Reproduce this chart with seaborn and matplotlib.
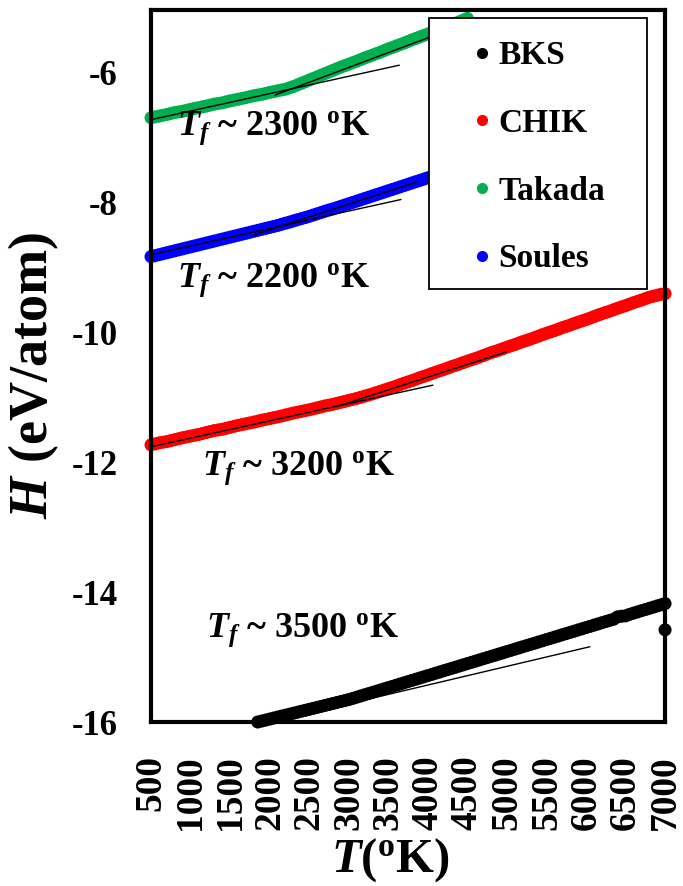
import numpy as np
import pandas as pd
import matplotlib
matplotlib.use("Agg")
import matplotlib.pyplot as plt
import seaborn as sns
from matplotlib.lines import Line2D
from matplotlib.patches import Rectangle
from matplotlib.ticker import MultipleLocator

# ---------------- data ----------------
series_names = ["BKS", "CHIK", "Takada", "Soules"]
series_colors = ["#000000", "#FF0000", "#00B050", "#0000FF"]

takada_T = list(range(500, 4501, 50))
takada_H = [-6.690, -6.677, -6.665, -6.652, -6.640, -6.625, -6.610, -6.600, -6.590, -6.575,
            -6.560, -6.548, -6.535, -6.522, -6.510, -6.495, -6.480, -6.470, -6.460, -6.445,
            -6.430, -6.418, -6.405, -6.392, -6.380, -6.365, -6.350, -6.340, -6.330, -6.315,
            -6.300, -6.288, -6.275, -6.262, -6.250, -6.230, -6.210, -6.185, -6.160, -6.135,
            -6.110, -6.085, -6.060, -6.035, -6.010, -5.985, -5.960, -5.935, -5.910, -5.888,
            -5.865, -5.842, -5.820, -5.795, -5.770, -5.748, -5.725, -5.702, -5.680, -5.655,
            -5.630, -5.608, -5.585, -5.562, -5.540, -5.515, -5.490, -5.468, -5.445, -5.422,
            -5.400, -5.375, -5.350, -5.328, -5.305, -5.282, -5.260, -5.235, -5.210, -5.185,
            -5.160]

soules_T = list(range(500, 4501, 50))
soules_H = [-8.830, -8.815, -8.800, -8.785, -8.770, -8.755, -8.740, -8.725, -8.710, -8.695,
            -8.680, -8.665, -8.650, -8.635, -8.620, -8.605, -8.590, -8.575, -8.560, -8.545,
            -8.530, -8.515, -8.500, -8.485, -8.470, -8.455, -8.440, -8.425, -8.410, -8.395,
            -8.380, -8.365, -8.350, -8.332, -8.315, -8.298, -8.280, -8.262, -8.245, -8.228,
            -8.210, -8.190, -8.170, -8.150, -8.130, -8.112, -8.095, -8.075, -8.055, -8.035,
            -8.015, -7.995, -7.975, -7.955, -7.935, -7.915, -7.895, -7.875, -7.855, -7.835,
            -7.815, -7.795, -7.775, -7.755, -7.735, -7.715, -7.695, -7.675, -7.655, -7.635,
            -7.615, -7.595, -7.575, -7.555, -7.535, -7.515, -7.495, -7.475, -7.455, -7.435,
            -7.415]

chik_T = list(range(500, 7001, 50))
chik_H = [-11.730, -11.715, -11.700, -11.690, -11.680, -11.665, -11.650, -11.635, -11.620, -11.608,
          -11.595, -11.582, -11.570, -11.555, -11.540, -11.525, -11.510, -11.500, -11.490, -11.475,
          -11.460, -11.445, -11.430, -11.418, -11.405, -11.392, -11.380, -11.365, -11.350, -11.338,
          -11.325, -11.312, -11.300, -11.285, -11.270, -11.255, -11.240, -11.228, -11.215, -11.202,
          -11.190, -11.175, -11.160, -11.145, -11.130, -11.118, -11.105, -11.090, -11.075, -11.060,
          -11.045, -11.030, -11.015, -10.998, -10.980, -10.962, -10.945, -10.925, -10.905, -10.885,
          -10.865, -10.845, -10.825, -10.802, -10.780, -10.760, -10.740, -10.718, -10.695, -10.675,
          -10.655, -10.632, -10.610, -10.590, -10.570, -10.548, -10.525, -10.505, -10.485, -10.462,
          -10.440, -10.420, -10.400, -10.378, -10.355, -10.332, -10.310, -10.290, -10.270, -10.248,
          -10.225, -10.205, -10.185, -10.162, -10.140, -10.120, -10.100, -10.078, -10.055, -10.032,
          -10.010, -9.990, -9.970, -9.948, -9.925, -9.905, -9.885, -9.862, -9.840, -9.820,
          -9.800, -9.778, -9.755, -9.732, -9.710, -9.690, -9.670, -9.648, -9.625, -9.605,
          -9.585, -9.562, -9.540, -9.520, -9.500, -9.478, -9.455, -9.440, -9.425, -9.410,
          -9.400]

bks_T = list(range(1850, 7001, 50)) + [7000]
bks_H = [-16.000, -15.985, -15.970, -15.955, -15.940, -15.925, -15.910, -15.895, -15.880, -15.865,
         -15.850, -15.835, -15.820, -15.805, -15.790, -15.775, -15.760, -15.745, -15.730, -15.715,
         -15.700, -15.685, -15.670, -15.655, -15.637, -15.618, -15.600, -15.581, -15.563, -15.544,
         -15.526, -15.507, -15.489, -15.470, -15.452, -15.433, -15.415, -15.396, -15.378, -15.359,
         -15.341, -15.322, -15.304, -15.285, -15.267, -15.248, -15.230, -15.211, -15.193, -15.174,
         -15.156, -15.137, -15.119, -15.100, -15.082, -15.063, -15.045, -15.026, -15.008, -14.989,
         -14.971, -14.952, -14.934, -14.915, -14.897, -14.878, -14.860, -14.841, -14.823, -14.804,
         -14.786, -14.767, -14.749, -14.730, -14.712, -14.693, -14.675, -14.656, -14.638, -14.619,
         -14.601, -14.582, -14.564, -14.545, -14.527, -14.508, -14.490, -14.471, -14.453, -14.434,
         -14.416, -14.380, -14.370, -14.365, -14.342, -14.323, -14.305, -14.286, -14.268, -14.249,
         -14.231, -14.212, -14.194, -14.175, -14.58]

# thin black linear-fit segments: (T_start, T_end, H_start, H_end)
fit_T0 = [500, 2070, 500, 1790, 500, 2845, 1850, 3300]
fit_T1 = [3640, 4130, 3660, 3860, 4065, 4990, 6050, 6900]
fit_H0 = [-6.72, -6.34, -8.80, -8.50, -11.76, -11.14, -16.05, -15.55]
fit_H1 = [-5.88, -5.40, -7.95, -7.68, -10.81, -10.30, -14.84, -14.22]

label_text = [r"$T_f$ ~ 2300 $^{\mathrm{o}}$K", r"$T_f$ ~ 2200 $^{\mathrm{o}}$K",
              r"$T_f$ ~ 3200 $^{\mathrm{o}}$K", r"$T_f$ ~ 3500 $^{\mathrm{o}}$K"]
label_T = [830, 830, 1140, 1190]
label_H = [-6.955, -9.30, -12.19, -14.69]

xticks = [500, 1000, 1500, 2000, 2500, 3000, 3500, 4000, 4500, 5000, 5500, 6000, 6500, 7000]
yticks = [-16, -14, -12, -10, -8, -6]

# ---------------- styling ----------------
sns.set_style("white")
plt.rcParams["font.family"] = ["Liberation Serif", "DejaVu Serif"]
plt.rcParams["font.weight"] = "bold"
plt.rcParams["axes.unicode_minus"] = False
plt.rcParams["mathtext.fontset"] = "custom"
plt.rcParams["mathtext.it"] = "Liberation Serif:italic:bold"
plt.rcParams["mathtext.rm"] = "Liberation Serif:bold"
plt.rcParams["mathtext.bf"] = "Liberation Serif:bold"
for key in ["text.color", "axes.labelcolor", "xtick.color", "ytick.color"]:
    plt.rcParams[key] = "black"

df = pd.concat([
    pd.DataFrame({"T": bks_T, "H": bks_H, "model": "BKS"}),
    pd.DataFrame({"T": chik_T, "H": chik_H, "model": "CHIK"}),
    pd.DataFrame({"T": takada_T, "H": takada_H, "model": "Takada"}),
    pd.DataFrame({"T": soules_T, "H": soules_H, "model": "Soules"}),
], ignore_index=True)

fig = plt.figure(figsize=(6.83, 8.86), dpi=100)
ax = fig.add_axes([0.2211, 0.1851, 0.7526, 0.8036])

sns.scatterplot(data=df, x="T", y="H", hue="model", hue_order=series_names,
                palette=dict(zip(series_names, series_colors)), s=88,
                linewidth=0, legend=False, ax=ax, clip_on=False, zorder=2)

for t0, t1, h0, h1 in zip(fit_T0, fit_T1, fit_H0, fit_H1):
    ax.plot([t0, t1], [h0, h1], color="black", lw=1.0, zorder=3)

for txt, tx, ty in zip(label_text, label_T, label_H):
    ax.text(tx, ty, txt, fontsize=26, fontweight="bold", ha="left", va="baseline", zorder=4)

ax.set_xlim(500, 7000)
ax.set_ylim(-16, -5.03)
ax.set_xticks(xticks)
ax.set_yticks(yticks)
ax.xaxis.set_minor_locator(MultipleLocator(100))
ax.yaxis.set_minor_locator(MultipleLocator(0.2))
ax.tick_params(axis="x", which="major", direction="in", length=5.5, width=1.3,
               labelsize=27, pad=24, labelrotation=90, top=False)
ax.tick_params(axis="x", which="minor", direction="in", length=3.8, width=1.1, top=False)
ax.tick_params(axis="y", which="major", direction="in", length=7.5, width=1.5,
               labelsize=25, pad=24, right=False)
ax.tick_params(axis="y", which="minor", direction="in", length=6, width=1.3, right=False)
for lab in ax.get_xticklabels() + ax.get_yticklabels():
    lab.set_fontweight("bold")

for sp in ax.spines.values():
    sp.set_linewidth(3)
    sp.set_color("black")

ax.set_xlabel(r"$T$(${}^{\mathrm{o}}$K)", fontsize=35, fontweight="bold")
ax.set_ylabel(r"$H$ (eV/atom)", fontsize=39, fontweight="bold")
ax.xaxis.set_label_coords(0.465, -0.160)
ax.yaxis.set_label_coords(-0.175, 0.487)

# legend box
ax.add_patch(Rectangle((0.541, 0.608), 0.424, 0.381, transform=ax.transAxes,
                       facecolor="white", edgecolor="black", lw=1.3, zorder=5))
handles = [Line2D([], [], marker="o", ls="", color=c, markersize=7) for c in series_colors]
leg = ax.legend(handles, series_names, loc="upper left", bbox_to_anchor=(0.566, 0.995),
                frameon=False, handlelength=0.8, handletextpad=0.1,
                labelspacing=1.1, borderpad=0.3, prop={"weight": "bold", "size": 24})
leg.set_zorder(6)

fig.savefig("out.png", dpi=100)
